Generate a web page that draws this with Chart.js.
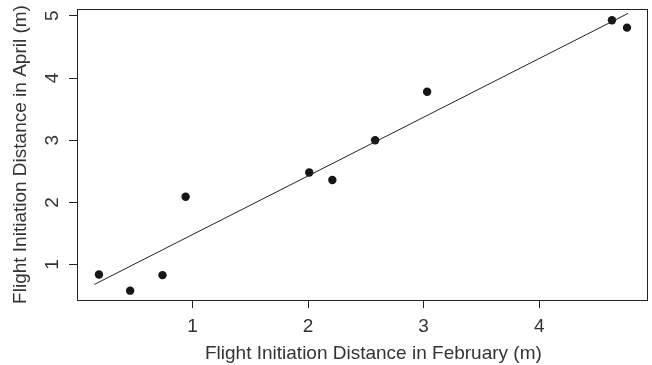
<!DOCTYPE html>
<html><head><meta charset="utf-8">
<script src="https://cdn.jsdelivr.net/npm/chart.js@4/dist/chart.umd.min.js"></script>
<style>html,body{margin:0;padding:0;background:#fff}#wrap{width:652px;height:365px}</style>
</head><body><div id="wrap"><canvas id="c" width="652" height="365"></canvas></div>
<script>
// Data
const febDistance = [0.19, 0.46, 0.74, 0.94, 2.01, 2.21, 2.58, 3.03, 4.63, 4.76];
const aprDistance = [0.84, 0.58, 0.83, 2.09, 2.48, 2.36, 3.00, 3.78, 4.93, 4.81];
const fitX = [0.15, 4.77];
const fitY = [0.68, 5.04];
const xTicks = [1, 2, 3, 4];
const yTicks = [1, 2, 3, 4, 5];
const xTitle = 'Flight Initiation Distance in February (m)';
const yTitle = 'Flight Initiation Distance in April (m)';

const FONT = '"Liberation Sans", Arial, Helvetica, sans-serif';
const INK = '#222';
const TEXT = '#333';

const points = febDistance.map((x, i) => ({x: x, y: aprDistance[i]}));
const fitLine = fitX.map((x, i) => ({x: x, y: fitY[i]}));

const framePlugin = {
  id: 'frame',
  afterDraw(chart) {
    const {ctx, chartArea: a} = chart;
    ctx.save();
    ctx.strokeStyle = INK;
    ctx.lineWidth = 1;
    const l = Math.round(a.left) + 0.5, t = Math.round(a.top) + 0.5;
    const r = Math.round(a.right) - 0.5, b = Math.round(a.bottom) + 0.5;
    ctx.strokeRect(l, t, r - l, b - t);
    // axis titles
    ctx.fillStyle = TEXT;
    ctx.font = '19px ' + FONT;
    ctx.textAlign = 'center';
    ctx.textBaseline = 'middle';
    ctx.fillText(xTitle, (a.left + a.right) / 2 + 11, 354);
    ctx.translate(21, (a.top + a.bottom) / 2);
    ctx.rotate(-Math.PI / 2);
    ctx.fillText(yTitle, 0, 0);
    ctx.restore();
  }
};

new Chart(document.getElementById('c'), {
  type: 'scatter',
  data: {
    datasets: [
      {
        type: 'line',
        data: fitLine,
        borderColor: INK,
        borderWidth: 1,
        pointRadius: 0,
        fill: false,
        tension: 0
      },
      {
        type: 'scatter',
        data: points,
        backgroundColor: '#161616',
        borderWidth: 0,
        pointRadius: 4.2,
        pointHoverRadius: 4.2
      }
    ]
  },
  options: {
    responsive: false,
    animation: false,
    devicePixelRatio: 1,
    layout: {padding: {top: 9, right: 1, left: 0, bottom: 0}},
    plugins: {legend: {display: false}, tooltip: {enabled: false}, title: {display: false}},
    scales: {
      x: {
        type: 'linear',
        min: 0,
        max: 4.94,
        afterBuildTicks(s) { s.ticks = xTicks.map(v => ({value: v})); },
        afterFit(s) { s.height = 65; s.paddingLeft = 0; s.paddingRight = 0; },
        border: {display: false},
        grid: {display: true, drawOnChartArea: false, drawTicks: true, tickLength: 8, color: INK, lineWidth: 1},
        ticks: {color: TEXT, font: {family: FONT, size: 19}, padding: 7, maxRotation: 0, minRotation: 0,
          callback: v => String(v)}
      },
      y: {
        type: 'linear',
        min: 0.43,
        max: 5.11,
        afterBuildTicks(s) { s.ticks = yTicks.map(v => ({value: v})); },
        afterFit(s) { s.width = 77; s.paddingTop = 0; s.paddingBottom = 0; },
        border: {display: false},
        grid: {display: true, drawOnChartArea: false, drawTicks: true, tickLength: 8, color: INK, lineWidth: 1},
        ticks: {color: TEXT, font: {family: FONT, size: 19}, padding: 11, minRotation: 90, maxRotation: 90,
          crossAlign: 'center', callback: v => String(v)}
      }
    }
  },
  plugins: [framePlugin]
});
</script>
</body></html>
